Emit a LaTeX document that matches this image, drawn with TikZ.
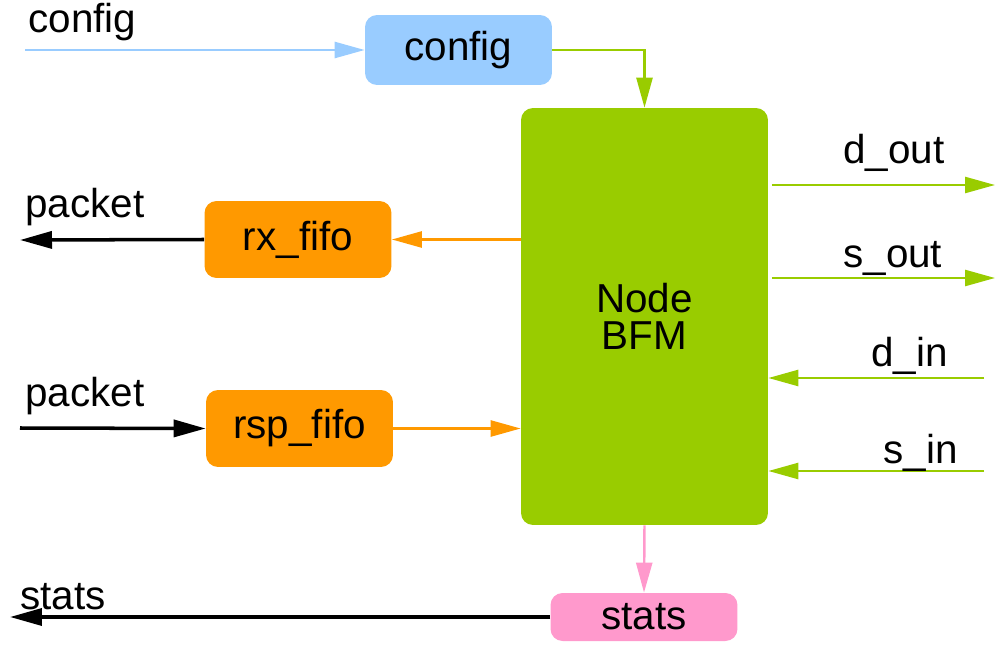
\documentclass[tikz,border=0pt]{standalone}
\usepackage{fontspec}
\setmainfont{Liberation Sans}
\usetikzlibrary{arrows.meta}

\definecolor{cfgblue}{HTML}{99CCFF}
\definecolor{bfmgreen}{HTML}{99CC00}
\definecolor{fifoorange}{HTML}{FF9900}
\definecolor{statpink}{HTML}{FF99CC}

\begin{document}
\begin{tikzpicture}[x=0.02cm, y=-0.02cm,
    every node/.style={font=\fontsize{23}{21}\selectfont},
    box/.style={rounded corners=0.24cm, inner sep=0pt, minimum width=3.74cm, minimum height=1.54cm},
    tag/.style={anchor=base west, inner sep=0pt},
    wire/.style={line width=1.4pt, -{Triangle[length=0.6cm, width=0.32cm]}},
    bus/.style={line width=2pt, -{Triangle[length=0.64cm, width=0.34cm]}}]
    \useasboundingbox (0,0) rectangle (997,645);

    % blocks
    \node[box, fill=cfgblue, minimum height=1.4cm] (config) at (458.5,50) {config};
    \node[box, fill=bfmgreen, minimum width=4.94cm, minimum height=8.34cm, align=center] (bfm) at (644.5,316.5) {Node\\BFM};
    \node[box, fill=fifoorange] (rx) at (298,239.5) {rx\_fifo};
    \node[box, fill=fifoorange] (rsp) at (299.5,428.5) {rsp\_fifo};
    \node[box, fill=statpink, minimum height=0.96cm] (stats) at (644,617) {stats};

    % loose ends of the ports
    \coordinate (cfgin) at (25,50);
    \coordinate (rxout) at (20,240);
    \coordinate (rspin) at (20,428);
    \coordinate (statsout) at (10,617);
    \coordinate (dout) at (995,185);
    \coordinate (sout) at (995,278);
    \coordinate (din) at (984,378);
    \coordinate (sin) at (984,471);

    \draw[wire, cfgblue] (cfgin) -- (config.west);
    \draw[wire, bfmgreen] (config.east) -| (bfm.north);
    \draw[wire, fifoorange] (rx.east -| bfm.west) -- (rx.east);
    \draw[bus] (rx.west) -- (rxout);
    \draw[bus] (rspin) -- (rsp.west);
    \draw[wire, fifoorange] (rsp.east) -- (rsp.east -| bfm.west);
    \draw[wire, statpink] (bfm.south) -- (stats.north);
    \draw[bus] (stats.west) -- (statsout);

    \draw[wire, bfmgreen] ([xshift=2]bfm.east |- dout) -- (dout);
    \draw[wire, bfmgreen] ([xshift=2]bfm.east |- sout) -- (sout);
    \draw[wire, bfmgreen] (din) -- (bfm.east |- din);
    \draw[wire, bfmgreen] (sin) -- (bfm.east |- sin);

    % port names
    \node[tag] (cfglbl) at (28,33) {config};
    \node[tag] (rxlbl) at (25,217) {packet};
    \node[tag] (rsplbl) at (25,406) {packet};
    \node[tag] (statslbl) at (20,609) {stats};
    \node[tag] (doutlbl) at (843,164) {d\_out};
    \node[tag] (soutlbl) at (843,268) {s\_out};
    \node[tag] (dinlbl) at (871,366) {d\_in};
    \node[tag] (sinlbl) at (883,463) {s\_in};
\end{tikzpicture}
\end{document}
